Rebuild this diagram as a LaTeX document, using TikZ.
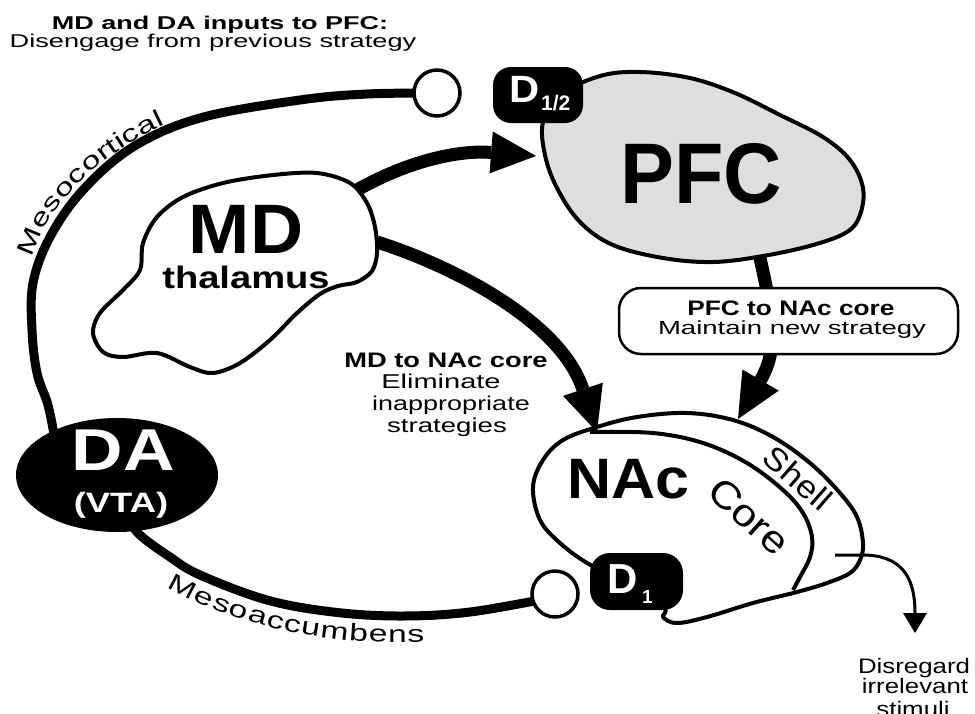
\documentclass[tikz,border=0pt]{standalone}
\usepackage{fontspec}
\usepackage{graphicx}
\setmainfont{Liberation Sans}
\newfontfamily\widefont[FakeStretch=1.4]{Liberation Sans}
\usetikzlibrary{arrows.meta,decorations.text,shapes.geometric}
\newcommand\fs[1]{\fontsize{#1}{#1}\selectfont}
\newcommand\mesofont{\widefont\fontsize{6}{6}\selectfont}
\begin{document}
\begin{tikzpicture}[x=1pt,y=1pt,
  blob/.style={draw=black,line width=4pt,line join=round},
  tract/.style={draw=black,line width=9pt},
  proj/.style={draw=black,line width=13pt,-{Triangle[length=45pt,width=42pt,line width=0pt]}},
  lbl/.style={inner sep=0pt,anchor=base},
  badge/.style={fill=black,rounded corners=18pt,inner sep=0pt},
  term/.style={circle,draw=black,line width=3.5pt,fill=white,minimum size=46pt,inner sep=0pt}]
\fill[white] (0,0) rectangle (975,-713);
\useasboundingbox (0,0) rectangle (975,-713);

% dopamine tracts
\draw[tract] plot[smooth, tension=0.6] coordinates {(55,-440) (48,-405) (37,-373) (32,-330) (33,-283) (50,-237) (83,-190) (133,-147) (200,-118) (300,-100) (367,-94) (437,-93)};
\draw[tract] plot[smooth, tension=0.6] coordinates {(125,-515) (140,-535) (170,-557) (200,-575) (267,-600) (333,-612) (400,-616) (470,-612) (555,-597)};
\begin{scope}[transform canvas={scale=4}]
\path[decorate, decoration={text along path, text={|\mesofont|Mesocortical}, text align=center, raise=1.75pt}] (8.25,-75) .. controls (7.5,-60) and (20,-40) .. (51.25,-29);
\path[decorate, decoration={text along path, text={|\mesofont|Mesoaccumbens}, text align=center, raise=-6.5pt}] (33.25,-132.5) .. controls (50,-148.75) and (85,-158) .. (120,-152.5);
\end{scope}

% MD thalamus
\draw[blob, fill=white] plot[smooth cycle, tension=0.55] coordinates {(157,-217) (183,-197) (223,-183) (273,-175) (317,-173) (350,-183) (367,-203) (375,-227) (377,-253) (372,-271) (357,-282) (338,-286) (320,-294) (297,-313) (270,-340) (240,-363) (213,-373) (190,-367) (157,-353) (123,-357) (103,-352) (93,-333) (100,-313) (123,-290) (140,-270) (143,-243)};

% PFC
\draw[blob, fill=black!13] plot[smooth cycle, tension=0.6] coordinates {(560,-95) (600,-76) (640,-72) (690,-78) (735,-93) (780,-115) (823,-137) (850,-160) (863,-188) (860,-215) (847,-232) (813,-245) (763,-256) (713,-262) (663,-258) (613,-245) (580,-222) (557,-188) (545,-155) (543,-122)};

% NAc
\draw[blob, fill=white] plot[smooth cycle, tension=0.6] coordinates {(533,-487) (543,-460) (563,-440) (597,-427) (637,-417) (687,-413) (733,-420) (773,-437) (810,-463) (840,-493) (857,-517) (863,-543) (860,-560) (850,-573) (827,-583) (797,-592) (753,-603) (707,-617) (677,-623) (663,-617) (663,-607) (620,-580) (587,-563) (560,-543) (540,-520)};
\draw[blob] plot[smooth, tension=0.6] coordinates {(590,-432) (653,-433) (703,-443) (747,-463) (783,-490) (803,-513) (812,-537) (810,-557) (800,-577) (793,-590)};

% projections
\coordinate (mdA) at (357,-190);
\coordinate (pfcL) at (536,-156);
\coordinate (mdB) at (377,-242);
\coordinate (nacT) at (597,-432);
\coordinate (pfcB) at (760,-258);
\coordinate (nacT2) at (738,-419);
\coordinate (shellP) at (835,-555);
\coordinate (shellE) at (862,-555);
\coordinate (disr) at (915,-633);
\draw[proj] (mdA) .. controls (410,-160) and (460,-150) .. (pfcL);
\draw[proj] (mdB) .. controls (450,-265) and (560,-320) .. (nacT);
\draw[proj] (pfcB) .. controls (774,-320) and (778,-350) .. (nacT2);
\draw[line width=3pt, -{Triangle[length=20pt,width=24pt,line width=0pt]}] (shellP) -- (shellE) .. controls (900,-555) and (915,-575) .. (disr);

% box
\node[draw,line width=2.5pt,rounded corners=22pt,fill=white,minimum width=339pt,minimum height=66pt,inner sep=0pt] (box) at (788.5,-321) {};
\node[lbl] (bx1) at (791,-315) {\fs{21}\bfseries\scalebox{1.25}[1]{PFC to NAc core}};
\node[lbl] (bx2) at (792,-334) {\fs{19}\scalebox{1.45}[1]{Maintain new strategy}};

% badges and terminals
\node[badge, minimum width=90pt, minimum height=56pt] (d12) at (538,-95) {};
\node[lbl, text=white] (d12D) at (525,-102) {\fs{38}\bfseries\scalebox{1.1}[1]{D}};
\node[lbl, text=white, anchor=base west] (d12s) at (541,-110) {\fs{21}\bfseries 1/2};
\node[badge, minimum width=93pt, minimum height=57pt, rounded corners=20pt] (d1) at (636.5,-581.5) {};
\node[lbl, text=white] (d1D) at (622.5,-593) {\fs{42}\bfseries D};
\node[lbl, text=white, anchor=base west] (d1s) at (642,-603) {\fs{19}\bfseries 1};
\node[term] (c1) at (437,-93) {};
\node[term] (c2) at (555,-594) {};

% DA
\node[ellipse, fill=black, minimum width=202pt, minimum height=114pt, inner sep=0pt] (da) at (117,-475) {};
\node[lbl,text=white] (dal) at (123.5,-470) {\fs{59}\bfseries\scalebox{1.21}[1]{DA}};
\node[lbl,text=white] (vta) at (121,-512) {\fs{28}\bfseries\scalebox{1.3}[1]{(VTA)}};

% labels
\node[lbl] (t1) at (220,-29) {\fs{18.5}\bfseries\scalebox{1.46}[1]{MD and DA inputs to PFC:}};
\node[lbl] (t2) at (213,-47) {\fs{18.5}\scalebox{1.47}[1]{Disengage from previous strategy}};
\node[lbl] (mdl) at (246,-253) {\fs{70}\bfseries\scalebox{1.05}[1]{MD}};
\node[lbl] (thal) at (246,-288) {\fs{31}\bfseries\scalebox{1.23}[1]{thalamus}};
\node[lbl] (pfcl) at (701,-203) {\fs{86}\bfseries\scalebox{0.94}[1]{PFC}};
\node[lbl] (nacl) at (628,-498) {\fs{57}\bfseries\scalebox{1.07}[1]{NAc}};
\node[rotate=-42, inner sep=0pt] (core) at (749,-516) {\fs{38}\scalebox{1.15}[1]{Core}};
\node[rotate=-41, inner sep=0pt] (shell) at (798,-478) {\fs{32}\scalebox{1.1}[1]{Shell}};
\node[lbl] (m1) at (446,-367) {\fs{21}\bfseries\scalebox{1.3}[1]{MD to NAc core}};
\node[lbl] (m2) at (441,-388) {\fs{20}\scalebox{1.45}[1]{Eliminate}};
\node[lbl] (m3) at (451,-410) {\fs{20}\scalebox{1.35}[1]{inappropriate}};
\node[lbl] (m4) at (447,-432) {\fs{20}\scalebox{1.38}[1]{strategies}};
\node[lbl] (r1) at (914,-673) {\fs{21}\scalebox{1.23}[1]{Disregard}};
\node[lbl] (r2) at (915,-693) {\fs{21}\scalebox{1.23}[1]{irrelevant}};
\node[lbl] (r3) at (913,-716) {\fs{21}\scalebox{1.23}[1]{stimuli}};
\end{tikzpicture}
\end{document}
